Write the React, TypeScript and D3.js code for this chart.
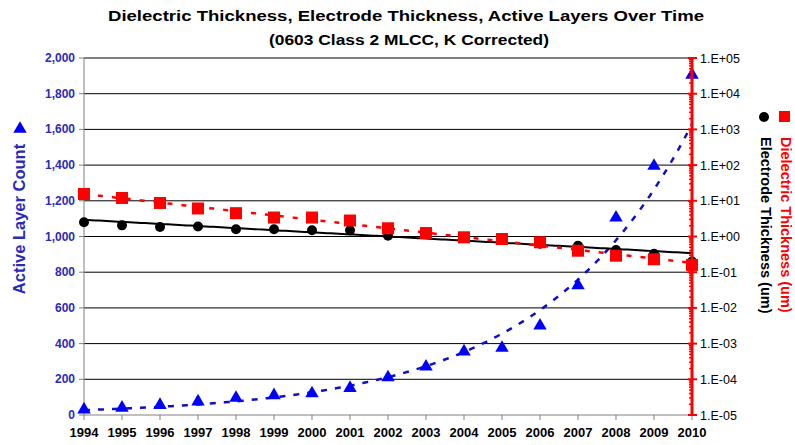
import React from "react";
import * as d3 from "d3";

const years = [1994, 1995, 1996, 1997, 1998, 1999, 2000, 2001, 2002, 2003, 2004, 2005, 2006, 2007, 2008, 2009, 2010];
const activeLayers = [25, 35, 50, 70, 90, 105, 115, 145, 205, 265, 350, 370, 495, 720, 1100, 1390, 1900];
const dielectric = [15.5, 12, 8.7, 6.1, 4.5, 3.4, 3.4, 2.8, 1.7, 1.25, 0.95, 0.85, 0.69, 0.4, 0.29, 0.23, 0.16];
const electrode = [2.5, 2.05, 1.85, 1.9, 1.6, 1.6, 1.5, 1.5, 1.05, 1.27, 0.97, 0.8, 0.63, 0.55, 0.42, 0.33, 0.2];
const leftTicks = [0, 200, 400, 600, 800, 1000, 1200, 1400, 1600, 1800, 2000];
const rightTicks = [1e-5, 1e-4, 1e-3, 1e-2, 1e-1, 1, 10, 100, 1000, 1e4, 1e5];
const rightTickLabels = ["1.E-05", "1.E-04", "1.E-03", "1.E-02", "1.E-01", "1.E+00", "1.E+01", "1.E+02", "1.E+03", "1.E+04", "1.E+05"];

const W = 795, H = 445;
const L = 84, R = 692, T = 58, B = 415;
const FONT = "'Liberation Sans', Arial, sans-serif";
const BLUE = "#0000ff";
const AXBLUE = "#2a2ab8";
const RED = "#ff0000";

function expFit(xs: number[], ys: number[]) {
  const lx = xs.map((x) => x - xs[0]);
  const ly = ys.map((y) => Math.log(y));
  const mx = d3.mean(lx)!, my = d3.mean(ly)!;
  let num = 0, den = 0;
  lx.forEach((x, i) => { num += (x - mx) * (ly[i] - my); den += (x - mx) * (x - mx); });
  const b = num / den;
  const a = my - b * mx;
  return (x: number) => Math.exp(a + b * (x - xs[0]));
}

export default function App() {
  const x = d3.scaleLinear().domain([years[0], years[years.length - 1]]).range([L, R]);
  const yL = d3.scaleLinear().domain([0, 2000]).range([B, T]);
  const yR = d3.scaleLog().domain([1e-5, 1e5]).range([B, T]);

  const fine = d3.range(years[0], years[years.length - 1] + 0.001, 0.1);
  const fA = expFit(years, activeLayers);
  const fD = expFit(years, dielectric);
  const fE = expFit(years, electrode);
  const lineL = d3.line<number>().x((d) => x(d)).y((d) => yL(d3.min([fA(d), 2000])!));
  const lineR = (f: (v: number) => number) => d3.line<number>().x((d) => x(d)).y((d) => yR(f(d)));

  const minor: number[] = [];
  rightTicks.slice(0, -1).forEach((t) => { for (let k = 2; k <= 9; k++) minor.push(t * k); });

  const tri = d3.symbol().type(d3.symbolTriangle).size(78)();
  const sq = 12;

  return (
    <svg width={W} height={H} style={{ position: "absolute", left: 0, top: 0, background: "#fff" }} fontFamily={FONT}>
      <rect width={W} height={H} fill="#fff" />
      <text x={406} y={21} textAnchor="middle" fontWeight="bold" fontSize={15.5} textLength={596} lengthAdjust="spacingAndGlyphs">Dielectric Thickness, Electrode Thickness, Active Layers Over Time</text>
      <text x={409} y={45} textAnchor="middle" fontWeight="bold" fontSize={14.5} textLength={280} lengthAdjust="spacingAndGlyphs">(0603 Class 2 MLCC, K Corrected)</text>

      {/* gridlines */}
      {leftTicks.slice(1).map((t) => (
        <line key={t} x1={L} x2={R} y1={yL(t)} y2={yL(t)} stroke="#000" strokeWidth={1} />
      ))}
      {/* left axis */}
      <line x1={L} x2={L} y1={T} y2={B} stroke="#808080" strokeWidth={1} />
      {leftTicks.map((t) => (
        <g key={t}>
          <line x1={L - 5} x2={L} y1={yL(t)} y2={yL(t)} stroke="#808080" />
          <text x={L - 9} y={yL(t) + 4} textAnchor="end" fontSize={12} fontWeight="bold" fill={AXBLUE}>{d3.format(",")(t)}</text>
        </g>
      ))}
      {/* bottom axis */}
      <line x1={L} x2={R} y1={B} y2={B} stroke="#808080" strokeWidth={1} />
      {years.map((yr) => (
        <g key={yr}>
          <line x1={x(yr)} x2={x(yr)} y1={B} y2={B + 5} stroke="#808080" />
          <text x={x(yr)} y={B + 22} textAnchor="middle" fontSize={13} fontWeight="bold" fill="#000">{yr}</text>
        </g>
      ))}

      {/* trend lines */}
      <path d={lineL(fine)!} fill="none" stroke="#1010c0" strokeWidth={2.5} strokeDasharray="6,8" />
      <path d={lineR(fE)(fine)!} fill="none" stroke="#000" strokeWidth={2} />
      <path d={lineR(fD)(fine)!} fill="none" stroke={RED} strokeWidth={2.5} strokeDasharray="5,9" />

      {/* points */}
      {years.map((yr, i) => (
        <circle key={"e" + yr} cx={x(yr)} cy={yR(electrode[i])} r={5} fill="#000" />
      ))}
      {years.map((yr, i) => (
        <rect key={"d" + yr} x={x(yr) - sq / 2} y={yR(dielectric[i]) - sq / 2} width={sq} height={sq} fill={RED} />
      ))}
      {years.map((yr, i) => (
        <path key={"a" + yr} d={tri!} transform={`translate(${x(yr)},${yL(activeLayers[i]) - 1})`} fill={BLUE} />
      ))}

      {/* right axis */}
      <line x1={R} x2={R} y1={T} y2={B} stroke={RED} strokeWidth={3} />
      {minor.map((t, i) => (
        <line key={"m" + i} x1={R - 3} x2={R + 1} y1={yR(t)} y2={yR(t)} stroke={RED} strokeWidth={1.5} />
      ))}
      {rightTicks.map((t, i) => (
        <g key={"r" + i}>
          <line x1={R - 4} x2={R + 5} y1={yR(t)} y2={yR(t)} stroke={RED} strokeWidth={2} />
          <text x={R + 8} y={yR(t) + 4.5} fontSize={12.5} fill="#000">{rightTickLabels[i]}</text>
        </g>
      ))}

      {/* left title */}
      <path d={tri!} transform="translate(20,129)" fill={BLUE} />
      <text transform="translate(25,219) rotate(-90)" textAnchor="middle" fontSize={16.5} fontWeight="bold" fill={AXBLUE}>Active Layer Count</text>

      {/* right legend */}
      <circle cx={764} cy={117} r={5} fill="#000" />
      <rect x={779} y={111} width={11} height={11} fill={RED} />
      <text transform="translate(761,137) rotate(90)" fontSize={14.5} fontWeight="bold" fill="#000">Electrode Thickness (um)</text>
      <text transform="translate(781,137) rotate(90)" fontSize={14.5} fontWeight="bold" fill={RED}>Dielectric Thickness (um)</text>
    </svg>
  );
}
